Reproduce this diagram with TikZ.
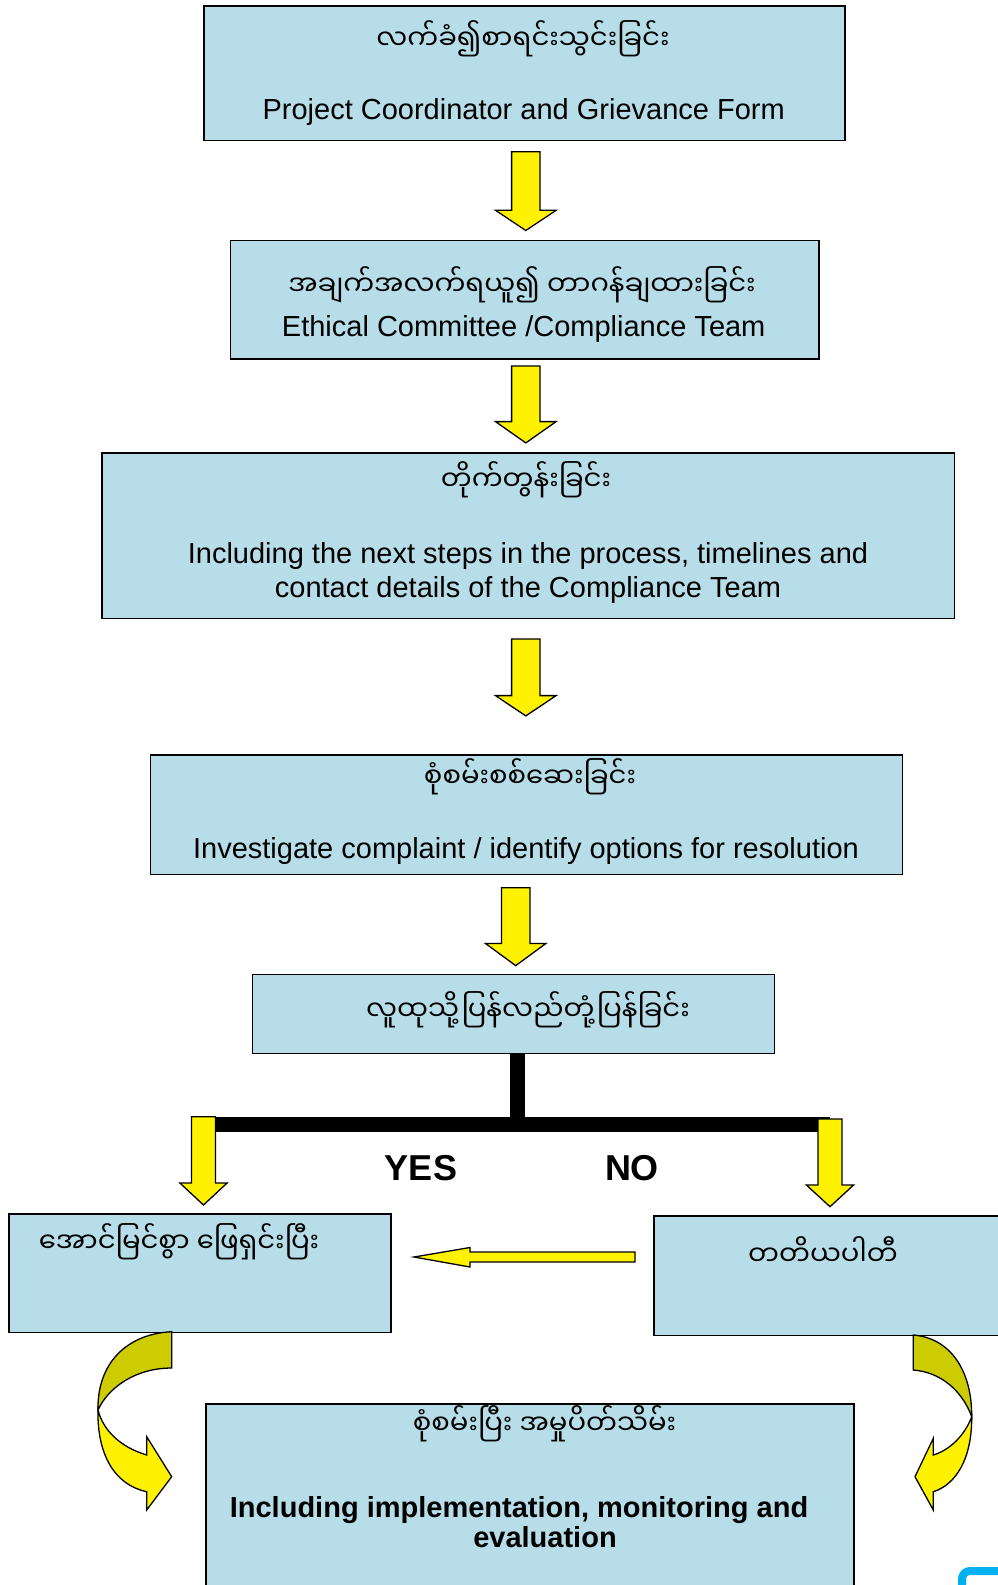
\documentclass[tikz,border=0pt]{standalone}
\usepackage{fontspec}
\setmainfont{Liberation Sans}
\newfontfamily\mya[Script=Myanmar]{Noto Sans Myanmar UI}
\definecolor{boxblue}{RGB}{183,221,232}
\definecolor{olivey}{RGB}{204,204,0}
\definecolor{cornerblue}{RGB}{0,176,240}
\newcommand\blkdown[6]{% cx, ytop, ybase, ytip, half shaft, half head
  \draw[yarr] ({#1-#5},#2) -- ({#1+#5},#2) -- ({#1+#5},#3) -- ({#1+#6},#3) -- (#1,#4) -- ({#1-#6},#3) -- ({#1-#5},#3) -- cycle;}
\begin{document}
\begin{tikzpicture}[x=1pt,y=-1pt,
  box/.style={draw=black, line width=1.5pt, fill=boxblue, inner sep=0pt, anchor=north west},
  yarr/.style={draw=black, line width=1.3pt, fill=yellow, line join=miter},
  myt/.style={font=\mya\fontsize{27.5}{31}\selectfont, inner sep=0pt},
  ent/.style={font=\fontsize{29}{34.5}\selectfont, inner sep=0pt, align=center},
  bent/.style={font=\bfseries\fontsize{29}{29.5}\selectfont, inner sep=0pt, align=center},
  lbl/.style={font=\bfseries\fontsize{36}{40}\selectfont, inner sep=0pt},
  tline/.style={line width=15pt, black}]
\useasboundingbox (0,0) rectangle (998,1585);
\clip (0,0) rectangle (998,1585);
\fill[white] (0,0) rectangle (998,1585);

% boxes
\node[box, minimum width=641, minimum height=134.4] (b1) at (203.2,5.1) {};
\node[box, minimum width=588.5, minimum height=118.4] (b2) at (229.5,239.6) {};
\node[box, minimum width=852.4, minimum height=165.8] (b3) at (101.1,452) {};
\node[box, minimum width=752.3, minimum height=119.3] (b4) at (149.6,754.3) {};
\node[box, minimum width=521.7, minimum height=78.9] (b5) at (251.8,973.7) {};
\node[box, minimum width=382.2, minimum height=118.3] (b6) at (8.1,1213.3) {};
\node[box, minimum width=400, minimum height=119.4] (b7) at (653.2,1215.3) {};
\node[box, minimum width=648.1, minimum height=250] (b8) at (205.3,1403.4) {};

% texts
\node[myt] (m1) at (523,39) {လက်ခံ၍စာရင်းသွင်းခြင်း};
\node[ent, anchor=base] (e1) at (523.7,119.3) {Project Coordinator and Grievance Form};
\node[myt] (m2) at (522,285) {အချက်အလက်ရယူ၍ တာဂန်ချထားခြင်း};
\node[ent, anchor=base] (e2) at (523.7,336.7) {Ethical Committee /Compliance Team};
\node[myt] (m3) at (526,480) {တိုက်တွန်းခြင်း};
\node[ent] (e3) at (528,573) {Including the next steps in the process, timelines and\\contact details of the Compliance Team};
\node[myt] (m4) at (530,777) {စုံစမ်းစစ်ဆေးခြင်း};
\node[ent, anchor=base] (e4) at (526,858.4) {Investigate complaint / identify options for resolution};
\node[myt] (m5) at (528,1009.5) {လူထုသို့ပြန်လည်တုံ့ပြန်ခြင်း};
\node[myt] (m6) at (179,1242) {အောင်မြင်စွာ ဖြေရှင်းပြီး};
\node[myt] (m7) at (823,1251.5) {တတိယပါတီ};
\node[myt] (m8) at (544.5,1424) {စုံစမ်းပြီး အမှုပိတ်သိမ်း};
\node[bent] (e8) at (519,1522) {Including implementation, monitoring and\\\hspace*{52pt}evaluation};

% vertical block arrows
\blkdown{525.8}{151.7}{210.3}{230.5}{14.2}{30.3}
\blkdown{525.8}{366}{421.6}{442.9}{14.2}{30.3}
\blkdown{525.8}{639}{695.6}{715.9}{14.2}{30.3}
\blkdown{515.7}{887.7}{943.4}{965.6}{14.2}{30.3}

% T connector
\coordinate (tj) at (517,1124);
\coordinate (tl) at (203.5,1124);
\coordinate (tr) at (830,1124);
\draw[tline] (tj |- b5.south) -- (tj);
\draw[tline] (tl) -- (tr);
\blkdown{203.5}{1116.7}{1183}{1205}{12}{23.6}
\blkdown{830}{1119}{1185}{1206.7}{12}{23.6}

\node[lbl] (yes) at (421,1168) {YES};
\node[lbl] (no) at (632,1168) {NO};

% horizontal arrow (NO -> YES)
\draw[yarr] (635,1252) -- (470,1252) -- (470,1247.5) -- (414,1257) -- (470,1267) -- (470,1262) -- (635,1262) -- cycle;

% curved arrows
\draw[yarr, fill=olivey] (171.7,1331.7) .. controls (125,1334) and (97,1365) .. (98,1410) .. controls (108,1388) and (135,1368) .. (171.7,1368) -- cycle;
\draw[yarr] (98,1410) .. controls (97,1455) and (115,1485) .. (146.7,1491.7) -- (146.7,1510) -- (171.7,1476.7) -- (146.7,1436.7) -- (146.7,1455) .. controls (120,1447) and (103,1430) .. (98,1410) -- cycle;

\draw[yarr, fill=olivey] (913.3,1335) .. controls (950,1338) and (972,1370) .. (971.7,1416.7) .. controls (962,1390) and (940,1372) .. (913.3,1370) -- cycle;
\draw[yarr] (971.7,1416.7) .. controls (972,1460) and (955,1485) .. (933.3,1491.7) -- (933.3,1510) -- (915,1476.7) -- (933.3,1438.3) -- (933.3,1455) .. controls (950,1450) and (965,1435) .. (971.7,1416.7) -- cycle;

% corner of a blue frame
\draw[cornerblue, line width=8pt, rounded corners=8pt] (962,1600) -- (962,1571) -- (1010,1571);
\end{tikzpicture}
\end{document}
